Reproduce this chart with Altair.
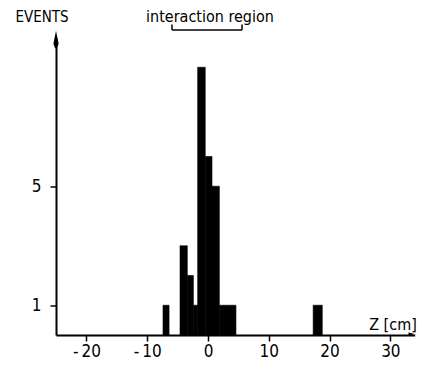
import altair as alt
import pandas as pd

# histogram bins (cm) and event counts
bin_start = [-7.4, -4.6, -3.4, -2.4, -1.7, -0.45, 0.66, 1.87, 17.3]
bin_end = [-6.4, -3.4, -2.4, -1.7, -0.45, 0.66, 1.87, 4.6, 18.8]
counts = [1, 3, 2, 1, 9, 6, 5, 1, 1]

x_ticks = [-20, -10, 0, 10, 20, 30]
y_ticks = [1, 5]

df = pd.DataFrame({"z0": bin_start, "z1": bin_end, "n": counts})

FONT = "DejaVu Sans Condensed"
W, H = 358.7, 297.5

xs = alt.Scale(domain=[-25, 34], nice=False, zero=False)
ys = alt.Scale(domain=[0, 10], nice=False)

bars = alt.Chart(df).mark_rect(color="black", stroke="black", strokeWidth=0.6).encode(
    x=alt.X("z0:Q", scale=xs, title=None,
            axis=alt.Axis(values=x_ticks, grid=False, domainColor="black", domainWidth=2,
                          tickColor="black", tickWidth=1.5, tickSize=6,
                          labelFont=FONT, labelFontSize=17, labelFontWeight=500,
                          labelColor="black", labelPadding=3,
                          labelExpr="datum.value < 0 ? '-\u2009' + (-datum.value) : '' + datum.value")),
    x2="z1:Q",
    y=alt.Y("n:Q", scale=ys, title=None,
            axis=alt.Axis(values=y_ticks, grid=False, domainColor="black", domainWidth=2,
                          tickColor="black", tickWidth=1.5, tickSize=6,
                          labelFont=FONT, labelFontSize=17, labelFontWeight=500,
                          labelColor="black", labelPadding=9)),
    y2=alt.datum(0),
)

one = pd.DataFrame({"a": [0]})

arrow_up = alt.Chart(one).mark_point(
    shape="M0,-1L0.3,0.5L0.1,1L-0.1,1L-0.3,0.5Z", filled=True, color="black", opacity=1, size=300
).encode(x=alt.value(0), y=alt.value(2))

arrow_right = alt.Chart(one).mark_point(
    shape="M1,0L-1,-0.5L-1,0.5Z", filled=True, color="black", opacity=1, size=40
).encode(x=alt.value(W - 3), y=alt.value(H - 1))

def txt(s, x, y, size=16, align="center"):
    return alt.Chart(one).mark_text(
        text=s, font=FONT, fontSize=size, fontWeight=500, color="black",
        align=align, baseline="alphabetic"
    ).encode(x=alt.value(x), y=alt.value(y))

events = txt("EVENTS", -14, -15.5, 15)
region = txt("interaction region", 154, -15.5, 16)
zlabel = txt("Z [cm]", 337, 293, 16)

bracket_h = alt.Chart(one).mark_rule(color="black", strokeWidth=1.5).encode(
    x=alt.value(116), x2=alt.value(186), y=alt.value(-7.5))
bracket_l = alt.Chart(one).mark_rule(color="black", strokeWidth=1.5).encode(
    x=alt.value(116), y=alt.value(-7.5), y2=alt.value(-13))
bracket_r = alt.Chart(one).mark_rule(color="black", strokeWidth=1.5).encode(
    x=alt.value(186), y=alt.value(-7.5), y2=alt.value(-13))

chart = alt.layer(
    bars, arrow_up, arrow_right, events, region, zlabel, bracket_h, bracket_l, bracket_r
).properties(
    width=W, height=H,
    autosize=alt.AutoSizeParams(type="none"),
    padding={"left": 48, "top": 29.5, "right": 5, "bottom": 30},
    background="white",
).configure_view(stroke=None)

chart.save("out.html", embed_options={"renderer": "svg", "actions": False})
